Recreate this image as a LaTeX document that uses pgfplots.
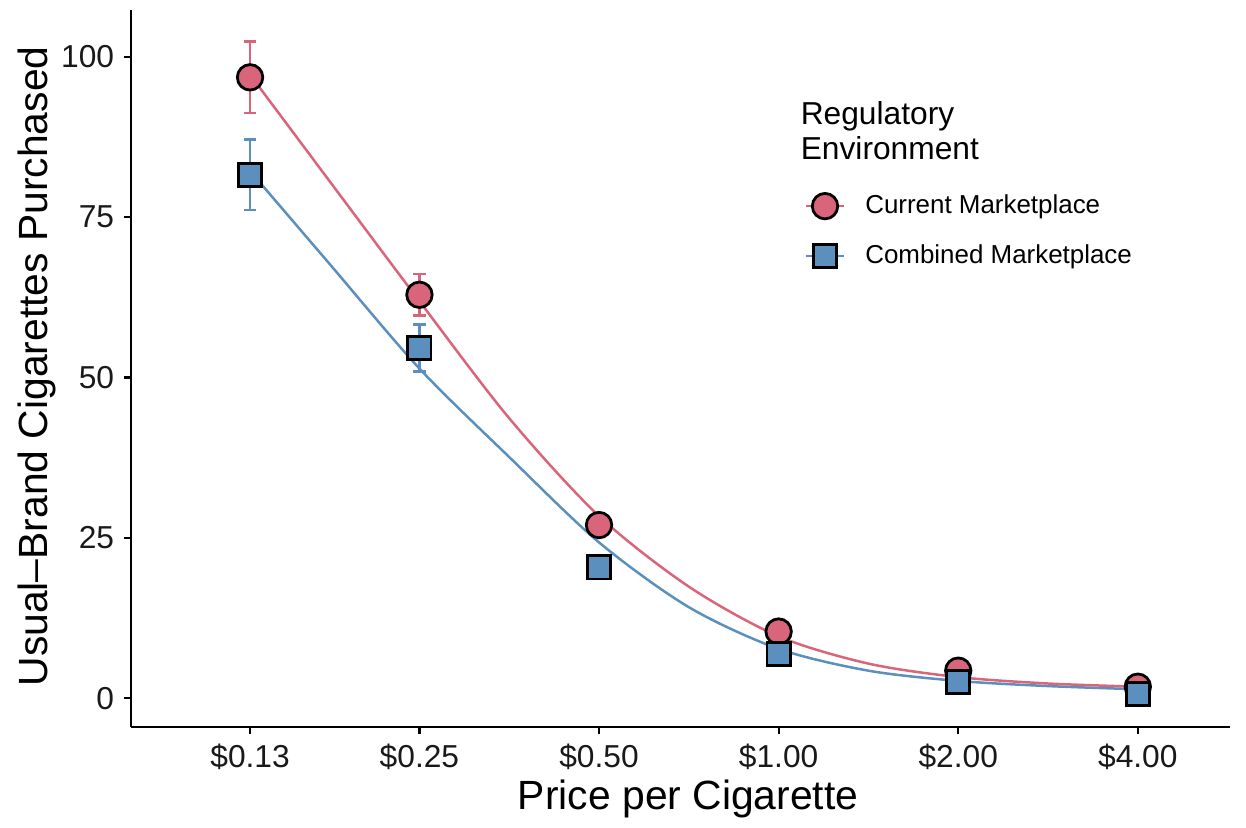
\documentclass[border=0pt]{standalone}
\usepackage{fontspec}
\setmainfont{Liberation Sans}
\usepackage{pgfplots}
\pgfplotsset{compat=1.18}
\definecolor{cur}{RGB}{217,101,122}
\definecolor{comb}{RGB}{91,143,190}
\begin{document}
\begin{tikzpicture}
\begin{axis}[
  scale only axis, width=396.9bp, height=259bp,
  xmin=-3.606, xmax=2.513, ymin=-4.5, ymax=107.3,
  axis x line*=bottom, axis y line*=left,
  axis line style={line width=0.9bp, -},
  xtick={-2.943,-2,-1,0,1,2},
  xticklabels={\$0.13,\$0.25,\$0.50,\$1.00,\$2.00,\$4.00},
  ytick={0,25,50,75,100},
  tick align=outside, major tick length=2.6bp,
  tick style={black, line width=0.8bp},
  tick label style={font=\fontsize{11.5}{13}\selectfont, text=black!90},
  /pgf/number format/assume math mode=true,
  xlabel={Price per Cigarette},
  ylabel={Usual–Brand Cigarettes Purchased},
  label style={font=\fontsize{14.8}{17}\selectfont},
  xlabel style={at={(rel axis cs:0.507,-0.1004)}, anchor=center},
  ylabel style={at={(rel axis cs:-0.0860,0.503)}, anchor=center, rotate=0},
  clip=false,
  legend style={at={(rel axis cs:0.613,0.745)}, anchor=north west,
    draw=none, fill=none, font=\fontsize{9.4}{11}\selectfont,
    row sep=9.2bp, column sep=7.4bp, nodes={inner sep=0pt}, inner sep=0pt},
  legend cell align=left,
  legend image code/.code={\draw[mark repeat=2,mark phase=2,#1] plot coordinates {(0bp,0bp) (6.7bp,0bp) (13.4bp,0bp)};},
]
% fitted curves
\addplot[comb, line width=0.9bp, smooth, forget plot] coordinates {
 (-2.943,82.2) (-2.5,67.7) (-2,51.4) (-1.5,37.6) (-1,24.3) (-0.5,14.2)
 (0,7.7) (0.5,4.3) (1,2.7) (1.5,1.9) (2,1.4)};
\addplot[cur, line width=0.9bp, smooth, forget plot] coordinates {
 (-2.943,97.2) (-2.5,80.6) (-2,61.9) (-1.5,43.65) (-1,28.4) (-0.5,17.4)
 (0,9.65) (0.5,5.4) (1,3.3) (1.5,2.3) (2,1.8)};
% error bars
\addplot[only marks, mark=none, forget plot,
  error bars/.cd, y dir=both, y explicit,
  error bar style={cur, line width=0.9bp},
  error mark options={cur, line width=0.9bp, rotate=90, mark size=2.2bp}]
  coordinates {
 (-2.943,96.8) +- (0,5.6)
 (-2,62.9) +- (0,3.2)
 (-1,27.0) +- (0,1.8)
 (0,10.4) +- (0,1.0)
 (1,4.3) +- (0,0.6)
 (2,1.8) +- (0,0.4)};
\addplot[only marks, mark=none, forget plot,
  error bars/.cd, y dir=both, y explicit,
  error bar style={comb, line width=0.9bp},
  error mark options={comb, line width=0.9bp, rotate=90, mark size=2.2bp}]
  coordinates {
 (-2.943,81.6) +- (0,5.5)
 (-2,54.6) +- (0,3.65)
 (-1,20.4) +- (0,1.6)
 (0,6.9) +- (0,0.9)
 (1,2.5) +- (0,0.5)
 (2,0.7) +- (0,0.3)};
% points
\addplot[only marks, mark=*, mark size=4.6bp,
  mark options={fill=cur, draw=black, line width=1bp}, forget plot]
  coordinates {(-2.943,96.8) (-2,62.9) (-1,27.0) (0,10.4) (1,4.3) (2,1.8)};
\addplot[only marks, mark=square*, mark size=4.2bp,
  mark options={fill=comb, draw=black, line width=1bp}, forget plot]
  coordinates {(-2.943,81.6) (-2,54.6) (-1,20.4) (0,6.9) (1,2.5) (2,0.7)};
% legend
\addlegendimage{cur, line width=0.9bp, mark=*, mark size=4.6bp, mark options={fill=cur, draw=black, line width=1bp}}
\addlegendentry{Current Marketplace}
\addlegendimage{comb, line width=0.9bp, mark=square*, mark size=4.2bp, mark options={fill=comb, draw=black, line width=1bp}}
\addlegendentry{Combined Marketplace}
\node[anchor=north west, align=left, inner sep=0pt,
  font=\fontsize{11.5}{12.6}\selectfont] at (rel axis cs:0.609,0.873)
  {Regulatory\\Environment};
\path (rel axis cs:-0.1192,-0.1324) rectangle (rel axis cs:1.0146,1.0139);
\end{axis}
\end{tikzpicture}
\end{document}
